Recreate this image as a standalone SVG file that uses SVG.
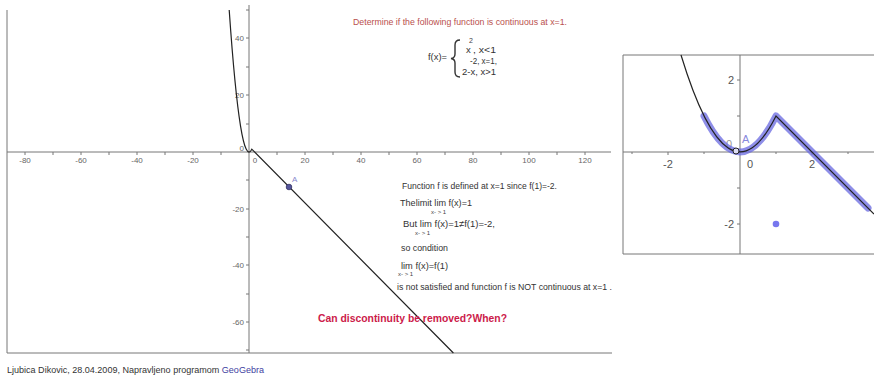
<svg xmlns="http://www.w3.org/2000/svg" width="874" height="376" viewBox="0 0 874 376">
<style>
.ax{stroke:#777;stroke-width:1;fill:none}
.tk{stroke:#777;stroke-width:1}
.lb{font-family:"Liberation Sans",Arial,sans-serif;font-size:8px;fill:#666}
.lb2{font-family:"Liberation Sans",Arial,sans-serif;font-size:11px;fill:#555}
.tx{font-family:"Liberation Sans",Arial,sans-serif;font-size:9.5px;fill:#333}
.sub{font-family:"Liberation Sans",Arial,sans-serif;font-size:6px;fill:#444}
.cv{stroke:#222;stroke-width:1.2;fill:none}
</style>
<rect width="874" height="376" fill="#fff"/>
<g id="main-plot">
  <path class="ax" d="M7,10 V353 H612"/>
  <path class="ax" d="M7,152 H611 M249,5 V353"/>
  <g class="tk">
    <path d="M25,152v3M53,152v3M81,152v3M109,152v3M137,152v3M165,152v3M193,152v3M221,152v3M277,152v3M305,152v3M333,152v3M361,152v3M389,152v3M417,152v3M445,152v3M473,152v3M501,152v3M529,152v3M557,152v3M585,152v3"/>
    <path d="M246,10h3M246,38h3M246,67h3M246,95h3M246,124h3M246,180h3M246,209h3M246,237h3M246,265h3M246,294h3M246,322h3M246,350h3"/>
  </g>
  <g class="lb" text-anchor="middle">
    <text x="25" y="163">-80</text><text x="81" y="163">-60</text><text x="137" y="163">-40</text><text x="193" y="163">-20</text>
    <text x="255" y="163">0</text>
    <text x="305" y="163">20</text><text x="361" y="163">40</text><text x="417" y="163">60</text><text x="473" y="163">80</text><text x="529" y="163">100</text><text x="585" y="163">120</text>
  </g>
  <g class="lb" text-anchor="end">
    <text x="244" y="41">40</text><text x="244" y="98">20</text><text x="244" y="151">0</text>
    <text x="244" y="212">-20</text><text x="244" y="268">-40</text><text x="244" y="325">-60</text>
  </g>
  <path class="cv" d="M229.2,10 Q240.5,172.1 251.8,149.2 L453.4,353"/>
  <circle cx="289" cy="187" r="2.8" fill="#55559a" stroke="#333366" stroke-width="0.8"/>
  <text x="292" y="182" class="lb" style="fill:#8888cc">A</text>
</g>
<g id="texts">
  <text x="353" y="25" class="tx" style="fill:#b9504d" textLength="214" lengthAdjust="spacingAndGlyphs">Determine if the following function is continuous at x=1.</text>
  <text x="428" y="60" class="tx" textLength="19" lengthAdjust="spacingAndGlyphs">f(x)=</text>
  <path d="M460,40 Q455,40 455,45 L455,54 Q455,58 451,58.5 Q455,59 455,63 L455,72 Q455,77 460,77" fill="none" stroke="#333" stroke-width="1.4"/>
  <text x="469" y="43" class="sub" style="font-size:7px">2</text>
  <text x="466" y="53" class="tx">x</text>
  <text x="473" y="53" class="tx" textLength="23" lengthAdjust="spacingAndGlyphs">, x&lt;1</text>
  <text x="470" y="64" class="tx" textLength="27" lengthAdjust="spacingAndGlyphs">-2, x=1,</text>
  <text x="462" y="75" class="tx" textLength="34" lengthAdjust="spacingAndGlyphs">2-x, x&gt;1</text>

  <text x="402" y="189" class="tx" textLength="155" lengthAdjust="spacingAndGlyphs">Function f is defined at x=1 since f(1)=-2.</text>
  <text x="400" y="206" class="tx" textLength="72" lengthAdjust="spacingAndGlyphs">Thelimit lim f(x)=1</text>
  <text x="431" y="214" class="sub">x- &gt; 1</text>
  <text x="403" y="227" class="tx" textLength="92" lengthAdjust="spacingAndGlyphs">But lim f(x)=1≠f(1)=-2,</text>
  <text x="415" y="235" class="sub">x- &gt; 1</text>
  <text x="401" y="251" class="tx" textLength="47" lengthAdjust="spacingAndGlyphs">so condition</text>
  <text x="401" y="269" class="tx" textLength="47" lengthAdjust="spacingAndGlyphs">lim f(x)=f(1)</text>
  <text x="398" y="276" class="sub">x- &gt; 1</text>
  <text x="397" y="290" class="tx" textLength="215" lengthAdjust="spacingAndGlyphs">is not satisfied and function f is NOT continuous at x=1 .</text>
  <text x="318" y="322" font-family="Liberation Sans,Arial,sans-serif" font-size="10" font-weight="bold" fill="#cc1a4a" textLength="189" lengthAdjust="spacingAndGlyphs">Can discontinuity be removed?When?</text>
  <text x="7" y="373" class="tx" style="font-size:8.5px" textLength="257" lengthAdjust="spacingAndGlyphs">Ljubica Dikovic, 28.04.2009, Napravljeno programom <tspan style="fill:#4040a0">GeoGebra</tspan></text>
</g>
<g id="inset-plot">
  <path class="ax" d="M874,55 H623 V254 H874"/>
  <path class="ax" d="M623,152 H874 M740,55 V254"/>
  <path class="tk" d="M632,152v2M668,152v3M704,152v2M776,152v2M812,152v3M848,152v2M737,80h3M737,116h3M737,188h3M737,224h3"/>
  <g class="lb2" text-anchor="middle">
    <text x="668" y="168">-2</text><text x="750" y="168">0</text><text x="812" y="168">2</text>
  </g>
  <g class="lb2" text-anchor="end">
    <text x="734" y="84">2</text><text x="734" y="228">-2</text>
    <text x="732" y="148" style="fill:#999">0</text>
  </g>
  <path d="M704,116 Q740,188 776,116 L868,208" fill="none" stroke="#6868e0" stroke-opacity="0.75" stroke-width="7" stroke-linecap="round" stroke-linejoin="round"/>
  <path class="cv" d="M681,55 Q728.5,211 776,116 L874,214"/>
  <circle cx="776" cy="224" r="3.3" fill="#7777ee"/>
  <circle cx="736" cy="151" r="3" fill="#ddddf5" stroke="#222" stroke-width="1"/>
  <text x="742" y="143" font-family="Liberation Sans,Arial,sans-serif" font-size="11" fill="#8888dd">A</text>
</g>
</svg>
